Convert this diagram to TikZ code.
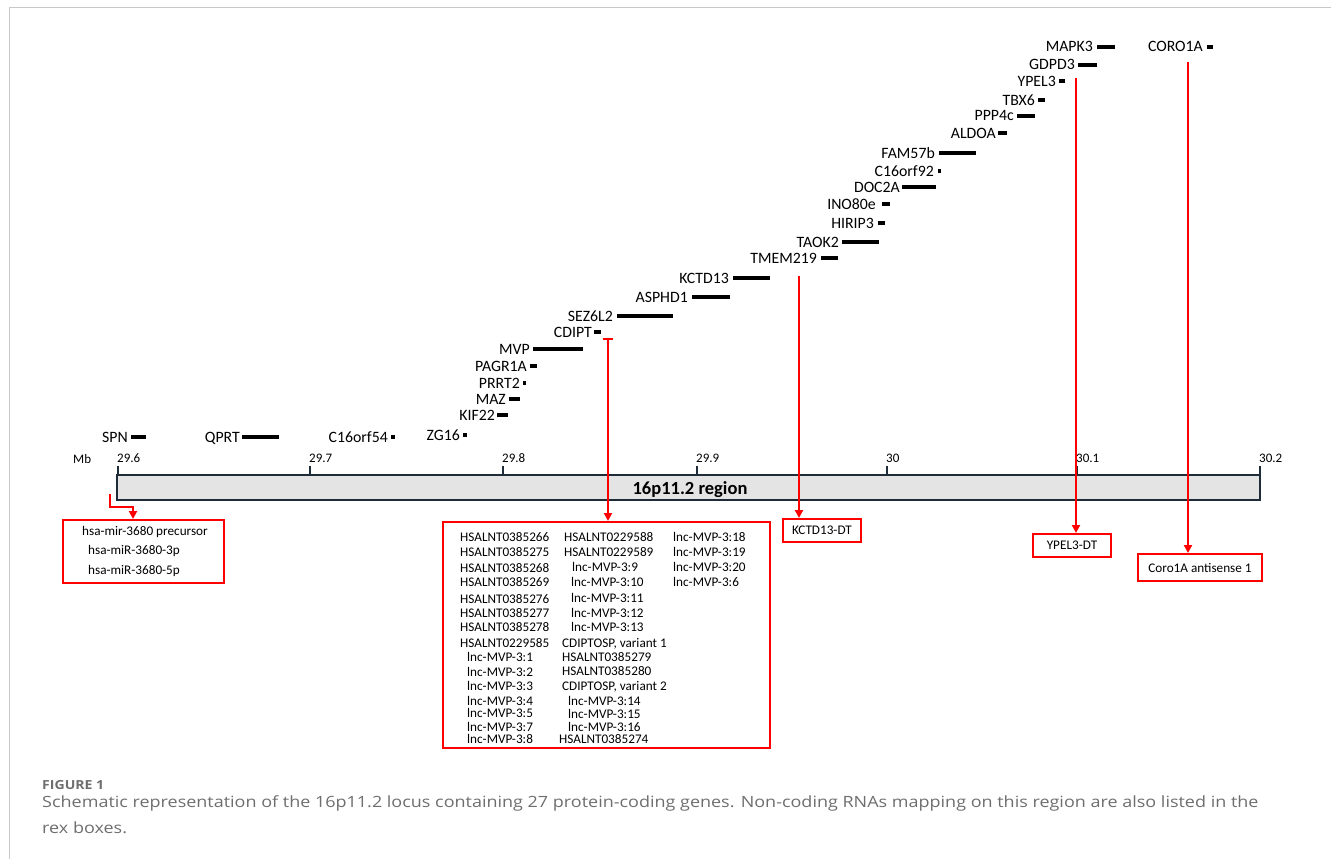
\documentclass[tikz,border=0pt]{standalone}
\usepackage{fontspec}
\setmainfont{Carlito}
\newfontfamily\capfont{Open Sans}
\usetikzlibrary{arrows.meta}
\definecolor{redl}{HTML}{FF0000}
\definecolor{axisfill}{HTML}{E4E4E4}
\definecolor{axisline}{HTML}{1E2B38}
\definecolor{capgray}{HTML}{6E6E6E}
\definecolor{framegray}{HTML}{C8C8C8}
\begin{document}
\begin{tikzpicture}[x=1pt,y=-1pt,
  genelbl/.style={anchor=base east, inner sep=0pt, font=\fontsize{15.8}{18}\selectfont},
  genebar/.style={line width=3.8pt},
  redline/.style={draw=redl, line width=2pt},
  redarr/.style={redline, -{Triangle[length=8pt,width=8pt]}},
  redbox/.style={draw=redl, line width=2pt, rectangle, inner sep=0pt, font=\fontsize{13.2}{15}\selectfont},
  boxtxt/.style={anchor=base west, inner sep=0pt, font=\fontsize{13.2}{15}\selectfont},
  tickmark/.style={line width=2pt, draw=axisline},
  ticklbl/.style={anchor=base west, inner sep=0pt, font=\fontsize{13}{15}\selectfont},
  captxt/.style={anchor=base west, inner sep=0pt, text=capgray, xscale=1.16, font=\capfont\fontsize{15.5}{18}\selectfont}]
\useasboundingbox (0,0) rectangle (1331,859);
% frame
\draw[framegray, line width=1.2pt] (9.5,859) -- (9.5,7.5) -- (1331,7.5);
% genes
\foreach \n/\xr/\a/\b/\y in {SPN/128/131/146/437, QPRT/240/242/279/437, C16orf54/388/391/395/437,
  ZG16/460/463/467/435, KIF22/495/497/508/415, MAZ/506/509/520/399, PRRT2/520/523/526/383,
  PAGR1A/527/530/537/366, MVP/530/533/583/349, CDIPT/592/594/601/332, SEZ6L2/613/617/673/316,
  ASPHD1/688/692/730/297, KCTD13/729/733/770/278, TMEM219/817/821/838/258, TAOK2/839/842/879/242,
  HIRIP3/874/878/885/223, INO80e/876/882/890/204, DOC2A/900/902/936/187, C16orf92/934/938/941/171,
  FAM57b/935/939/976/153, ALDOA/996/998/1007/133, PPP4c/1014/1017/1035/116, TBX6/1035/1038/1045/100,
  YPEL3/1056/1059/1065/81, GDPD3/1075/1078/1097/65, MAPK3/1093/1097/1115/47, CORO1A/1203/1207/1213/47}
{
  \node[genelbl] (\n) at (\xr,\y+5) {\n};
  \draw[genebar] (\a,\y) -- (\b,\y);
}
% axis
\node[draw=axisline, fill=axisfill, line width=2.2pt, minimum width=1143pt, minimum height=25pt, inner sep=0pt] (axis) at (688.5,487.5) {};
\node[anchor=base, inner sep=0pt, font=\bfseries\fontsize{18.5}{20}\selectfont] (region) at (690,494) {16p11.2 region};
\foreach \x/\l [count=\i] in {118/29.6, 310/29.7, 503/29.8, 697/29.9, 887/30, 1077/30.1, 1260/30.2}
{
  \draw[tickmark] (\x,466) -- (\x,475);
  \node[ticklbl] (tick\i) at (\x-1,462) {\l};
}
\node[ticklbl] (mb) at (73,463) {Mb};
% boxes
\node[redbox, minimum width=161pt, minimum height=63pt] (mirbox) at (143.5,551.5) {};
\node[boxtxt] (mir1) at (82,535) {hsa-mir-3680 precursor};
\node[boxtxt] (mir2) at (88,554.5) {hsa-miR-3680-3p};
\node[boxtxt] (mir3) at (88,574) {hsa-miR-3680-5p};
\node[redbox, minimum width=327pt, minimum height=226pt] (bigbox) at (606.5,635) {};
\node[redbox, minimum width=78pt, minimum height=23pt] (kdt) at (822,530.5) {KCTD13-DT};
\node[redbox, minimum width=78pt, minimum height=23pt] (ydt) at (1072,545.5) {YPEL3-DT};
\node[redbox, minimum width=124pt, minimum height=27pt] (cdt) at (1200,567.5) {Coro1A antisense 1};
% big box text
\foreach \t/\x/\y [count=\i] in {
  HSALNT0385266/460/537, HSALNT0385275/460/552, HSALNT0385268/460/568, HSALNT0385269/460/582,
  HSALNT0385276/460/599, HSALNT0385277/460/613, HSALNT0385278/460/627, HSALNT0229585/460/643,
  lnc-MVP-3:1/467/657, lnc-MVP-3:2/467/672, lnc-MVP-3:3/467/686, lnc-MVP-3:4/467/701,
  lnc-MVP-3:5/467/713, lnc-MVP-3:7/467/727, lnc-MVP-3:8/467/739,
  HSALNT0229588/564/537, HSALNT0229589/564/552, lnc-MVP-3:9/572/567, lnc-MVP-3:10/571/582,
  lnc-MVP-3:11/571/598, lnc-MVP-3:12/571/613, lnc-MVP-3:13/571/627, {CDIPTOSP, variant 1}/562/643,
  HSALNT0385279/562/657, HSALNT0385280/562/671, {CDIPTOSP, variant 2}/562/686, lnc-MVP-3:14/568/701,
  lnc-MVP-3:15/568/714, lnc-MVP-3:16/568/727, HSALNT0385274/559/739,
  lnc-MVP-3:18/673/537, lnc-MVP-3:19/673/552, lnc-MVP-3:20/673/567, lnc-MVP-3:6/673/582}
{
  \node[boxtxt] (nc\i) at (\x,\y+4.3) {\t};
}
% connectors
\coordinate (mirS) at (110,494);
\coordinate (mirM) at (133,507);
\coordinate (cdiptS) at (608,338);
\coordinate (tmemS) at (799,276);
\coordinate (ypelS) at (1076,78);
\coordinate (coroS) at (1188,62);
\draw[redarr] (mirS) |- (mirM) -- (mirM |- mirbox.north);
\draw[redline, {Bar[width=10pt]}-{Triangle[length=8pt,width=8pt]}] (cdiptS) -- (cdiptS |- bigbox.north);
\draw[redarr] (tmemS) -- (tmemS |- kdt.north);
\draw[redarr] (ypelS) -- (ypelS |- ydt.north);
\draw[redarr] (coroS) -- (coroS |- cdt.north);
% caption
\node[captxt, xscale=0.97, font=\capfont\bfseries\fontsize{12.5}{14}\selectfont] (fig) at (42,789) {FIGURE 1};
\node[captxt] (cap1) at (42,807) {Schematic representation of the 16p11.2 locus containing 27 protein-coding genes. Non-coding RNAs mapping on this region are also listed in the};
\node[captxt] (cap2) at (42,833) {rex boxes.};
\end{tikzpicture}
\end{document}
